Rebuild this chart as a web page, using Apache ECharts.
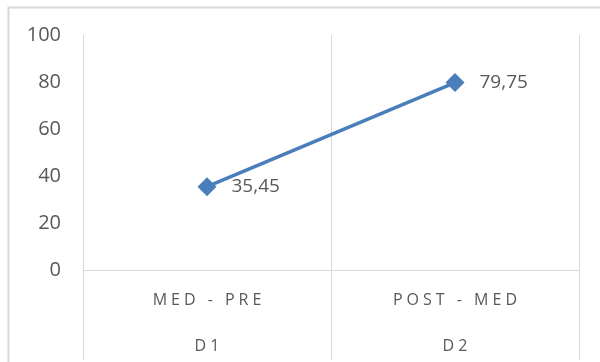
<!DOCTYPE html>
<html><head><meta charset="utf-8">
<script src="https://cdn.jsdelivr.net/npm/echarts@6/dist/echarts.min.js"></script>
<style>html,body{margin:0;padding:0;background:#fff}#c{width:600px;height:362px}</style>
</head><body><div id="c"></div>
<script>
var categories = ['MED - PRE', 'POST - MED'];
var groups = ['D1', 'D2'];
var values = [35.45, 79.75];
var valueLabels = ['35,45', '79,75'];
var yTicks = [0, 20, 40, 60, 80, 100];

function spaced(s){ return s.split('').join('\u2005'); }

var chart = echarts.init(document.getElementById('c'), null, {renderer:'canvas'});
chart.setOption({
  animation: false,
  backgroundColor: '#fff',
  graphic: [{
    type: 'rect', left: 6, top: 5, silent: true,
    shape: {x: 0, y: 0, width: 620, height: 380},
    style: {fill: 'none', stroke: '#d9d9d9', lineWidth: 2}
  }],
  grid: {left: 83, right: 21, top: 35, bottom: 92, containLabel: false},
  xAxis: {
    type: 'category',
    data: categories,
    boundaryGap: true,
    axisLine: {show: true, lineStyle: {color: '#d9d9d9', width: 1}},
    axisTick: {show: true, length: 90, lineStyle: {color: '#d9d9d9', width: 1}},
    splitLine: {show: true, lineStyle: {color: '#d9d9d9', width: 1}},
    axisLabel: {
      margin: 7,
      formatter: function(v, i){ return '{a|' + spaced(v) + '}\n{b|' + spaced(groups[i]) + '}'; },
      rich: {
        a: {fontFamily: 'Open Sans', fontSize: 16, color: '#595959', lineHeight: 46},
        b: {fontFamily: 'Open Sans', fontSize: 16, color: '#595959', lineHeight: 46}
      }
    }
  },
  yAxis: {
    type: 'value',
    min: 0, max: 100, interval: 20,
    axisLine: {show: true, lineStyle: {color: '#d9d9d9'}},
    axisTick: {show: false},
    splitLine: {show: false},
    axisLabel: {
      margin: 22,
      fontFamily: 'Open Sans',
      fontSize: 20, color: '#595959',
      formatter: function(v){ return yTicks.indexOf(v) >= 0 ? String(v) : ''; }
    }
  },
  series: [{
    type: 'line',
    data: values,
    symbol: 'diamond',
    symbolSize: 19,
    lineStyle: {color: '#4a7ebb', width: 3.5},
    itemStyle: {color: '#4a7ebb'},
    label: {
      show: true, position: 'right', distance: 15,
      fontFamily: 'Open Sans', fontSize: 19, color: '#595959',
      formatter: function(p){ return valueLabels[p.dataIndex]; }
    }
  }]
});
</script>
</body></html>
